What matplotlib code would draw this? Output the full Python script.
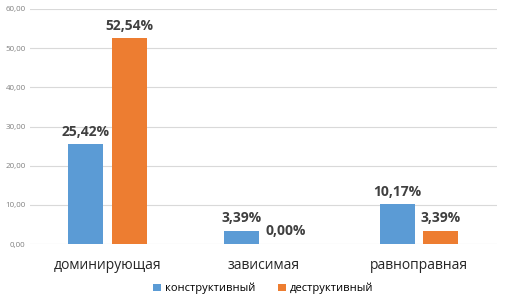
import matplotlib
matplotlib.use("Agg")
import matplotlib.pyplot as plt
import numpy as np

categories = ["доминирующая", "зависимая", "равноправная"]
series_names = ["конструктивный", "деструктивный"]
constructive = [25.42, 3.39, 10.17]
destructive = [52.54, 0.00, 3.39]
yticks = [0, 10, 20, 30, 40, 50, 60]

plt.rcParams['font.family'] = ['Open Sans', 'DejaVu Sans']

fig = plt.figure(figsize=(5.07, 3.06), dpi=100)
ax = fig.add_axes([0.059, 0.2026, 0.921, 0.768])

x = np.arange(len(categories))
w = 0.225
off = 0.141
colors = ["#5B9BD5", "#ED7D31"]
b1 = ax.bar(x - off, constructive, w, color=colors[0], label=series_names[0], zorder=3)
b2 = ax.bar(x + off, destructive, w, color=colors[1], label=series_names[1], zorder=3)

for bars, vals in ((b1, constructive), (b2, destructive)):
    for b, v in zip(bars, vals):
        ax.annotate(f"{v:.2f}%".replace(".", ","), (b.get_x() + b.get_width() / 2, v),
                    xytext=(0, 4), textcoords="offset points", ha="center", va="bottom",
                    fontsize=10, fontweight="bold", color="#404040")

ax.set_xlim(-0.5, 2.5)
ax.set_ylim(0, 60)
ax.set_yticks(yticks)
ax.set_yticklabels([f"{t:.2f}".replace(".", ",") for t in yticks], fontsize=5.8, color="#808080")
ax.set_xticks(x)
ax.set_xticklabels(categories, fontsize=10, color="#262626")
ax.tick_params(axis="both", length=0)
ax.tick_params(axis="x", pad=10)
ax.tick_params(axis="y", pad=3)
ax.grid(axis="y", color="#D9D9D9", linewidth=0.8, zorder=0)
for s in ax.spines.values():
    s.set_visible(False)

ax.legend(loc="center", bbox_to_anchor=(0.5, -0.19), ncol=2, frameon=False,
          fontsize=8, handlelength=0.7, handleheight=0.7, handletextpad=0.4, columnspacing=2.0)

fig.savefig("out.png", dpi=100)
